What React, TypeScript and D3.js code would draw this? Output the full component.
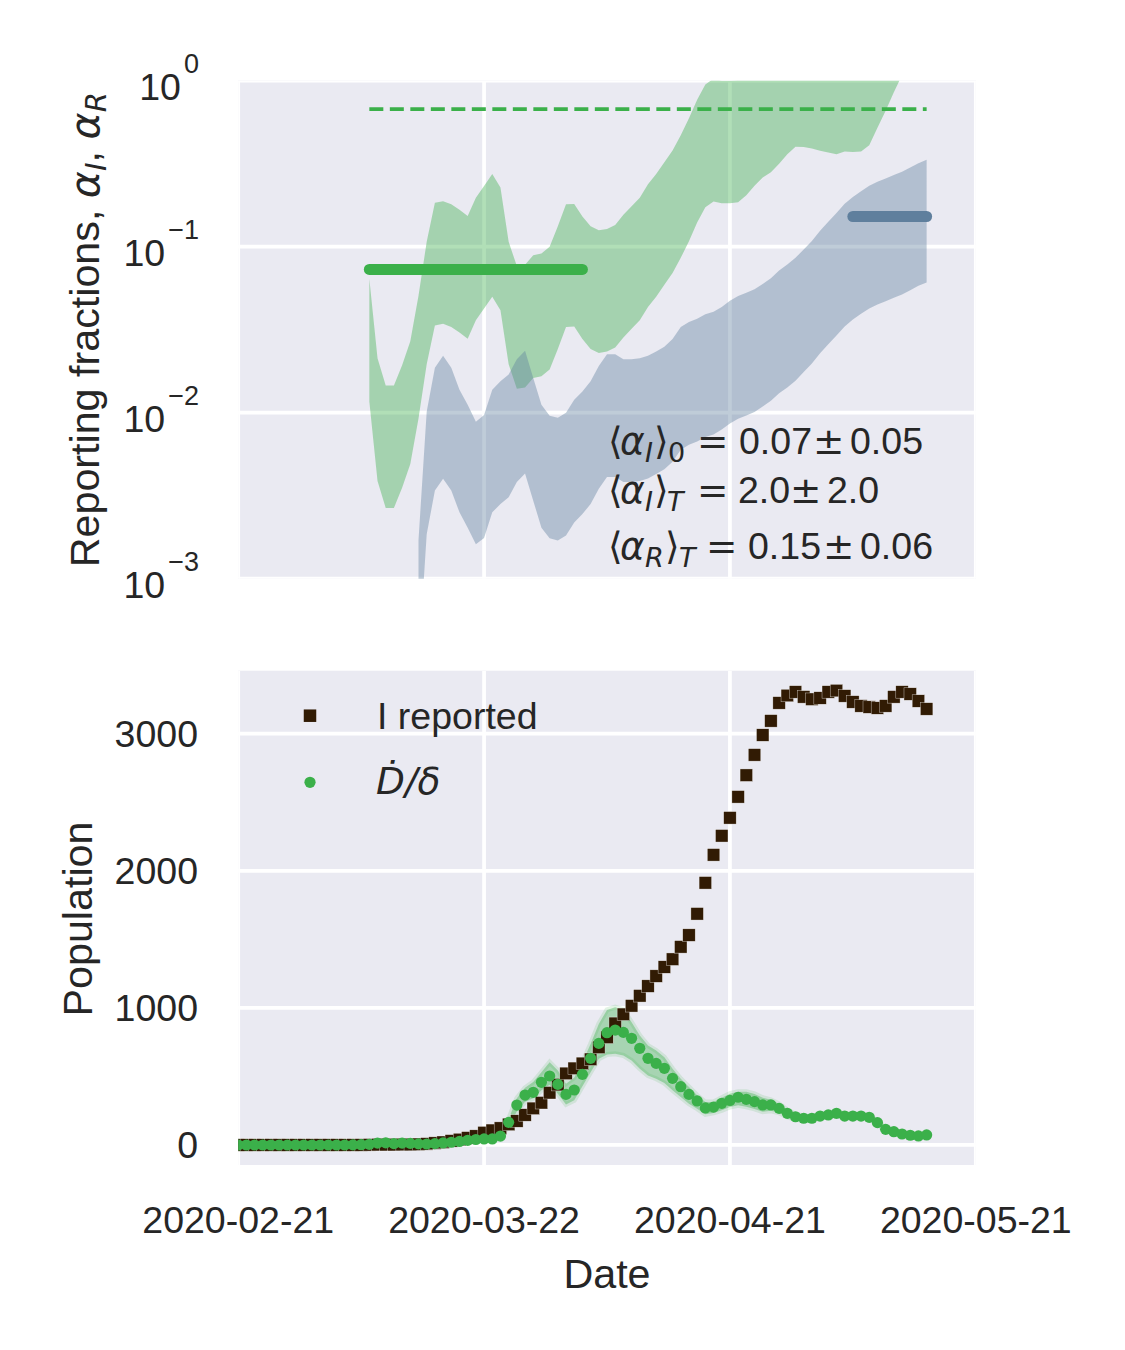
import React from 'react';
import * as d3 from 'd3';

// ---------- data ----------
const START = Date.UTC(2020, 1, 21);
const DAY = 86400000;
const xTickLabels = ['2020-02-21', '2020-03-22', '2020-04-21', '2020-05-21'];
const topYTicks = [1e-3, 1e-2, 1e-1, 1];
const topYExponents = ['−3', '−2', '−1', '0'];
const bottomYTicks = [0, 1000, 2000, 3000];

// alpha_I credible band (first day index 16 = 2020-03-08)
const alphaIStart = 16;
const alphaILow = [0.0117, 0.00388, 0.00267, 0.00267, 0.00353, 0.00491, 0.00924, 0.0196, 0.0335, 0.0343,
  0.0328, 0.0304, 0.0279, 0.036, 0.0424, 0.05, 0.0414, 0.0196, 0.01395, 0.0142,
  0.0162, 0.0166, 0.0182, 0.0242, 0.0328, 0.0331, 0.0278, 0.0242, 0.0229, 0.0234,
  0.0247, 0.0284, 0.032, 0.036, 0.0434, 0.05, 0.0589, 0.0694, 0.0857, 0.108,
  0.14, 0.173, 0.1875, 0.183, 0.183, 0.185, 0.204, 0.2325, 0.2615, 0.281,
  0.3155, 0.361, 0.4, 0.399, 0.39, 0.379, 0.37, 0.361, 0.375, 0.3715,
  0.375, 0.4085, 0.521, 0.659, 0.853, 1.08, 1.35, 1.6, 1.9];
const alphaIHigh = [0.064, 0.0213, 0.0146, 0.0146, 0.0193, 0.0269, 0.0506, 0.107, 0.184, 0.188,
  0.18, 0.167, 0.153, 0.197, 0.232, 0.274, 0.227, 0.107, 0.0764, 0.0779,
  0.0888, 0.091, 0.1, 0.133, 0.18, 0.181, 0.152, 0.133, 0.1255, 0.128,
  0.135, 0.156, 0.175, 0.197, 0.238, 0.274, 0.323, 0.38, 0.47, 0.594,
  0.767, 0.948, 1.03, 1.0, 1.0, 1.01, 1.12, 1.27, 1.43, 1.54,
  1.73, 1.98, 2.2, 2.19, 2.13, 2.08, 2.03, 1.98, 2.05, 2.04,
  2.05, 2.24, 2.86, 3.6, 4.7, 5.9, 7.4, 8.8, 10.4];

// alpha_R credible band (first day index 22 = 2020-03-14)
const alphaRStart = 22;
const alphaRLow = [0.000312, 0.00185, 0.0034, 0.004, 0.0034, 0.00251, 0.00203, 0.00161, 0.00176, 0.00251,
  0.00282, 0.0031, 0.00383, 0.0043, 0.00295, 0.00203, 0.00175, 0.0017, 0.00182, 0.00218,
  0.00245, 0.00282, 0.00348, 0.0041, 0.0041, 0.00383, 0.00383, 0.00388, 0.00401, 0.00427,
  0.00456, 0.00507, 0.00598, 0.00642, 0.00671, 0.00715, 0.00739, 0.00792, 0.00861, 0.0092,
  0.00963, 0.0101, 0.0109, 0.0118, 0.0131, 0.0142, 0.0156, 0.0176, 0.0198, 0.0228,
  0.0258, 0.0292, 0.0331, 0.0364, 0.0394, 0.0424, 0.0449, 0.047, 0.0493, 0.0516,
  0.0547, 0.0581, 0.0609];
const alphaRHigh = [0.00171, 0.01015, 0.01866, 0.022, 0.01866, 0.01377, 0.01115, 0.00881, 0.00968, 0.01377,
  0.01547, 0.017, 0.021, 0.0236, 0.0162, 0.01115, 0.00959, 0.00933, 0.01, 0.01196,
  0.01344, 0.01547, 0.0191, 0.0225, 0.0225, 0.021, 0.021, 0.0213, 0.022, 0.0234,
  0.025, 0.0278, 0.0328, 0.0352, 0.0368, 0.0392, 0.0405, 0.0434, 0.0472, 0.0504,
  0.0528, 0.0554, 0.0597, 0.0646, 0.072, 0.078, 0.0857, 0.0963, 0.1083, 0.1247,
  0.1415, 0.1598, 0.1814, 0.1992, 0.2158, 0.2325, 0.246, 0.2578, 0.2702, 0.283,
  0.2996, 0.3184, 0.3337];

// mean levels: [first day index, last day index], value
const alphaI0Days = [16, 42];
const alphaI0Value = 0.073;
const alphaITDays = [16, 84];
const alphaITValue = 0.675;
const alphaRTDays = [75, 84];
const alphaRTValue = 0.152;

// bottom panel, daily from 2020-02-21
const iReported = [0, 0, 0, 0, 0, 0, 0, 0, 0, 0, 0, 0, 0, 0, 0, 0,
  1, 2, 2, 2, 3, 3, 5, 8, 14, 20, 30, 40, 52, 65,
  90, 107, 123, 150, 175, 219, 267, 308, 381, 440,
  522, 559, 595, 625, 712, 785, 887, 953, 1015, 1088,
  1159, 1232, 1298, 1355, 1445, 1531, 1686, 1912, 2116, 2255,
  2386, 2539, 2697, 2845, 2990, 3093, 3224, 3278, 3304, 3268,
  3251, 3260, 3304, 3314, 3275, 3231, 3202, 3194, 3187, 3202,
  3268, 3304, 3289, 3238, 3180];
const dDotOverDelta = [0, 0, 0, 0, 0, 0, 0, 0, 0, 0, 0, 0, 0, 0, 1, 2,
  5, 14, 16, 10, 14, 12, 8, 7, 10, 15, 20, 26, 34, 40,
  44, 44, 65, 165, 291, 364, 384, 457, 503, 442,
  369, 401, 515, 632, 741, 819, 838, 821, 778, 705,
  632, 595, 559, 486, 425, 369, 321, 270, 276, 304,
  325, 348, 333, 316, 292, 292, 267, 231, 206, 195,
  195, 211, 219, 231, 211, 211, 211, 202, 163, 114,
  97, 80, 71, 66, 73];
const dBandLow = [0, 0, 0, 0, 0, 0, 0, 0, 0, 0, 0, 0, 0, 0, 0, 1,
  3, 10, 12, 7, 10, 9, 6, 5, 7, 11, 15, 20, 27, 32,
  36, 36, 55, 140, 245, 316, 340, 400, 440, 374,
  296, 326, 428, 531, 628, 660, 665, 653, 616, 556,
  507, 483, 452, 399, 350, 301, 265, 224, 234, 253,
  277, 290, 279, 263, 243, 250, 235, 205, 188, 178,
  180, 196, 204, 216, 196, 197, 197, 188, 151, 103,
  86, 70, 62, 57, 64];
const dBandHigh = [0, 0, 0, 0, 0, 0, 0, 0, 0, 0, 0, 0, 0, 0, 2, 3,
  7, 18, 20, 13, 18, 15, 10, 9, 13, 19, 25, 32, 42, 48,
  52, 52, 80, 190, 341, 417, 459, 530, 603, 543,
  447, 491, 603, 737, 883, 985, 1005, 985, 895, 798,
  725, 689, 640, 556, 483, 422, 362, 313, 313, 345,
  374, 389, 389, 372, 345, 330, 300, 255, 225, 212,
  210, 226, 234, 246, 226, 225, 225, 216, 175, 125,
  108, 90, 80, 75, 82];

// ---------- styling ----------
const BG = '#eaeaf2';
const GREEN = '#3bb04a';
const BLUE = '#5f7f9d';
const DARK = '#311b04';
const TXT = '#262626';
const SANS = "'Liberation Sans', Arial, sans-serif";
const MATH = "'DejaVu Sans', sans-serif";
const TICK_FS = 37.5;
const LABEL_FS = 41.25;
const SQ = 12.5;
const DOT_R = 5.6;

const dayDate = (d: number) => new Date(START + d * DAY);

const X0 = 238.2, X1 = 975.8;
const TOP = { y0: 80.7, y1: 578.7 };
const BOT = { y0: 670.7, y1: 1165 };

const x = d3.scaleUtc()
  .domain([new Date(START), new Date(Date.UTC(2020, 4, 21))])
  .range([X0, X1]);
const yTop = d3.scaleLog().domain([1e-3, 1]).range([TOP.y1, TOP.y0]);
const yBot = d3.scaleLinear().domain([-146, 3459]).range([BOT.y1, BOT.y0]);

const xTickValues = xTickLabels.map((s) => new Date(s + 'T00:00:00Z'));

function bandPath(start: number, low: number[], high: number[], y: any) {
  const pts = low.map((l, i) => ({ d: start + i, l, h: high[i] }));
  const gen = d3.area<any>()
    .x((p) => x(dayDate(p.d)))
    .y0((p) => y(p.l))
    .y1((p) => y(p.h));
  return gen(pts) || '';
}

function levelPath(days: number[], v: number) {
  const gen = d3.line<number>().x((d) => x(dayDate(d))).y(() => yTop(v));
  return gen(days) || '';
}

type Seg = { t: string; x: number; math?: boolean; it?: boolean; sub?: boolean };

function MathLine({ y, segs }: { y: number; segs: Seg[] }) {
  return (
    <g fill={TXT}>
      {segs.map((s, i) => (
        <text key={i} x={s.x} y={s.sub ? y + 8 : y}
          fontFamily={s.math ? MATH : SANS}
          fontStyle={s.it ? 'italic' : 'normal'}
          fontSize={s.sub ? 27 : 37.5}>{s.t}</text>
      ))}
    </g>
  );
}

const line1: Seg[] = [
  { t: '⟨', x: 608, math: true }, { t: 'α', x: 620, math: true, it: true },
  { t: 'I', x: 645, math: true, it: true, sub: true }, { t: '⟩', x: 654, math: true },
  { t: '0', x: 668, math: true, sub: true }, { t: '=', x: 697, math: true },
  { t: '0.07', x: 739 }, { t: '±', x: 813, math: true }, { t: '0.05', x: 850 },
];
const line2: Seg[] = [
  { t: '⟨', x: 608, math: true }, { t: 'α', x: 620, math: true, it: true },
  { t: 'I', x: 645, math: true, it: true, sub: true }, { t: '⟩', x: 654, math: true },
  { t: 'T', x: 667, math: true, it: true, sub: true }, { t: '=', x: 697, math: true },
  { t: '2.0', x: 738 }, { t: '±', x: 790, math: true }, { t: '2.0', x: 827 },
];
const line3: Seg[] = [
  { t: '⟨', x: 608, math: true }, { t: 'α', x: 620, math: true, it: true },
  { t: 'R', x: 645, math: true, it: true, sub: true }, { t: '⟩', x: 665, math: true },
  { t: 'T', x: 679, math: true, it: true, sub: true }, { t: '=', x: 706, math: true },
  { t: '0.15', x: 748 }, { t: '±', x: 823, math: true }, { t: '0.06', x: 860 },
];

export default function App() {
  const days = iReported.map((_, i) => i);
  const dBand = bandPath(0, dBandLow, dBandHigh, yBot);
  return (
    <svg width={1125} height={1350} viewBox="0 0 1125 1350"
      style={{ position: 'absolute', left: 0, top: 0, background: '#fff' }}>
      <defs>
        <clipPath id="clipTop"><rect x={X0} y={TOP.y0} width={X1 - X0} height={TOP.y1 - TOP.y0} /></clipPath>
        <clipPath id="clipBot"><rect x={X0} y={BOT.y0} width={X1 - X0} height={BOT.y1 - BOT.y0} /></clipPath>
      </defs>

      {/* ---------- top panel ---------- */}
      <rect x={X0} y={TOP.y0} width={X1 - X0} height={TOP.y1 - TOP.y0} fill={BG} />
      <g clipPath="url(#clipTop)">
        {xTickValues.map((d, i) => (
          <line key={'tx' + i} x1={x(d)} x2={x(d)} y1={TOP.y0} y2={TOP.y1} stroke="#fff" strokeWidth={3.75} />
        ))}
        {topYTicks.map((v, i) => (
          <line key={'ty' + i} x1={X0} x2={X1} y1={yTop(v)} y2={yTop(v)} stroke="#fff" strokeWidth={3.75} />
        ))}
        <path d={bandPath(alphaIStart, alphaILow, alphaIHigh, yTop)} fill={GREEN} fillOpacity={0.4} />
        <path d={bandPath(alphaRStart, alphaRLow, alphaRHigh, yTop)} fill={BLUE} fillOpacity={0.4} />
        <path d={levelPath(alphaITDays, alphaITValue)} stroke={GREEN} strokeWidth={3.75}
          strokeDasharray="14 6.5" fill="none" />
        <path d={levelPath(alphaI0Days, alphaI0Value)} stroke={GREEN} strokeWidth={11}
          strokeLinecap="round" fill="none" />
        <path d={levelPath(alphaRTDays, alphaRTValue)} stroke={BLUE} strokeWidth={11}
          strokeLinecap="round" fill="none" />
      </g>
      <MathLine y={453.9} segs={line1} />
      <MathLine y={502.9} segs={line2} />
      <MathLine y={558.6} segs={line3} />
      {topYTicks.map((v, i) => (
        <text key={'tl' + i} x={199} y={yTop(v) + 19.5} textAnchor="end" fontFamily={SANS}
          fontSize={TICK_FS} fill={TXT}>
          10<tspan dx={3} dy={-27} fontSize={27}>{topYExponents[i]}</tspan>
        </text>
      ))}
      <text transform={`translate(98.5,${(TOP.y0 + TOP.y1) / 2}) rotate(-90)`} textAnchor="middle"
        fontFamily={SANS} fontSize={LABEL_FS} fill={TXT} style={{ whiteSpace: 'pre' }}>
        {'Reporting fractions, '}
        <tspan fontFamily={MATH} fontStyle="italic">α</tspan>
        <tspan fontFamily={MATH} fontStyle="italic" fontSize={29} dy={7}>I</tspan>
        <tspan dy={-7}>{', '}</tspan>
        <tspan fontFamily={MATH} fontStyle="italic">α</tspan>
        <tspan fontFamily={MATH} fontStyle="italic" fontSize={29} dy={7}>R</tspan>
      </text>

      {/* ---------- bottom panel ---------- */}
      <rect x={X0} y={BOT.y0} width={X1 - X0} height={BOT.y1 - BOT.y0} fill={BG} />
      <g clipPath="url(#clipBot)">
        {xTickValues.map((d, i) => (
          <line key={'bx' + i} x1={x(d)} x2={x(d)} y1={BOT.y0} y2={BOT.y1} stroke="#fff" strokeWidth={3.75} />
        ))}
        {bottomYTicks.map((v, i) => (
          <line key={'by' + i} x1={X0} x2={X1} y1={yBot(v)} y2={yBot(v)} stroke="#fff" strokeWidth={3.75} />
        ))}
        <path d={dBand} fill={GREEN} fillOpacity={0.38} stroke={GREEN} strokeOpacity={0.14} strokeWidth={5} />
        {days.map((d) => (
          <rect key={'sq' + d} x={x(dayDate(d)) - SQ / 2} y={yBot(iReported[d]) - SQ / 2} width={SQ} height={SQ}
            fill={DARK} stroke="#fff" strokeWidth={0.5} strokeOpacity={0.7} />
        ))}
        {days.map((d) => (
          <circle key={'dt' + d} cx={x(dayDate(d))} cy={yBot(dDotOverDelta[d])} r={DOT_R} fill={GREEN} />
        ))}
      </g>
      {/* legend */}
      <rect x={310 - SQ / 2} y={715.7 - SQ / 2} width={SQ} height={SQ} fill={DARK} />
      <text x={377} y={729.3} fontFamily={SANS} fontSize={TICK_FS} fill={TXT}>I reported</text>
      <circle cx={310} cy={782.3} r={DOT_R} fill={GREEN} />
      <text x={376} y={794} fontFamily={MATH} fontStyle="italic" fontSize={TICK_FS} fill={TXT}>Ḋ/δ</text>

      {bottomYTicks.map((v, i) => (
        <text key={'bl' + i} x={198} y={yBot(v) + 13} textAnchor="end" fontFamily={SANS}
          fontSize={TICK_FS} fill={TXT}>{v}</text>
      ))}
      <text transform={`translate(92,919) rotate(-90)`} textAnchor="middle" fontFamily={SANS}
        fontSize={LABEL_FS} fill={TXT}>Population</text>

      {xTickValues.map((d, i) => (
        <text key={'xl' + i} x={x(d)} y={1233.3} textAnchor="middle" fontFamily={SANS}
          fontSize={TICK_FS} fill={TXT}>{xTickLabels[i]}</text>
      ))}
      <text x={(X0 + X1) / 2} y={1288} textAnchor="middle" fontFamily={SANS} fontSize={LABEL_FS}
        fill={TXT}>Date</text>
    </svg>
  );
}
